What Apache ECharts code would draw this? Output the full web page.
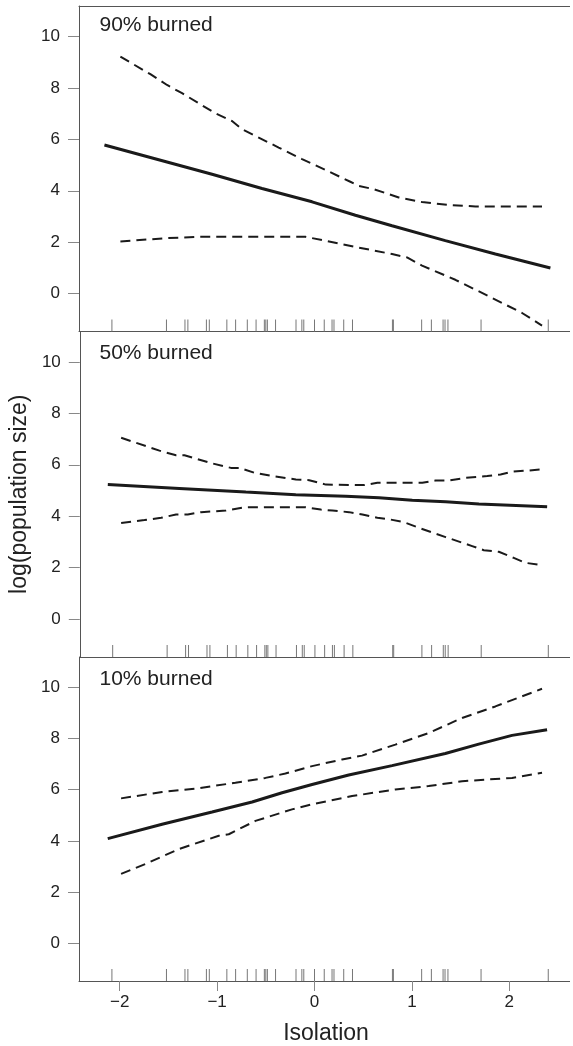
<!DOCTYPE html>
<html>
<head>
<meta charset="utf-8">
<script src="https://cdn.jsdelivr.net/npm/echarts@6/dist/echarts.min.js"></script>
<style>
  html, body { margin: 0; padding: 0; background: #fff; overflow: hidden; }
  #chart { width: 573px; height: 1046px; }
</style>
</head>
<body>
<div id="chart"></div>
<script>
// ---------- data ----------
const panelLabels = ['90% burned', '50% burned', '10% burned'];
const xTicks = [-2, -1, 0, 1, 2];
const yTicks = [0, 2, 4, 6, 8, 10];
const xAxisTitle = 'Isolation';
const yAxisTitle = 'log(population size)';

// rug: isolation values of the sites
const rugX = [-2.08, -1.52, -1.33, -1.30, -1.11, -1.08, -0.90, -0.81, -0.69, -0.60,
  -0.515, -0.50, -0.484, -0.40, -0.19, -0.13, -0.11, 0.00, 0.10, 0.18, 0.20, 0.30,
  0.39, 0.80, 0.81, 1.10, 1.20, 1.32, 1.34, 1.37, 1.71, 2.40];

// 90% burned
const fit90 = [[-2.157, 5.78], [-1.052, 4.64], [-0.539, 4.09], [-0.025, 3.57], [0.420, 3.05],
  [0.796, 2.64], [1.343, 2.06], [1.857, 1.54], [2.422, 1.00]];
const upper90 = [[-1.993, 9.21], [-1.685, 8.53], [-1.514, 8.11], [-1.360, 7.79], [-1.018, 7.01],
  [-0.847, 6.71], [-0.744, 6.39], [-0.607, 6.13], [-0.368, 5.68], [-0.128, 5.23], [0.111, 4.81],
  [0.368, 4.35], [0.454, 4.19], [0.608, 4.06], [0.865, 3.74], [1.104, 3.56], [1.378, 3.45],
  [1.652, 3.39], [2.336, 3.39]];
const lower90 = [[-1.993, 2.03], [-1.514, 2.16], [-1.189, 2.21], [-0.094, 2.21], [0.111, 2.06],
  [0.454, 1.79], [0.796, 1.54], [0.950, 1.41], [1.104, 1.09], [1.446, 0.54], [1.789, -0.10],
  [2.131, -0.75], [2.336, -1.24]];

// 50% burned
const fit50 = [[-2.130, 5.23], [-1.394, 5.08], [-0.710, 4.94], [-0.197, 4.84], [0.317, 4.78],
  [0.659, 4.72], [1.001, 4.62], [1.344, 4.56], [1.686, 4.48], [2.388, 4.37]];
const upper50 = [[-1.993, 7.05], [-1.599, 6.55], [-1.428, 6.37], [-1.342, 6.37], [-1.052, 6.05],
  [-0.864, 5.88], [-0.778, 5.88], [-0.624, 5.69], [-0.436, 5.56], [-0.196, 5.43], [-0.059, 5.40],
  [0.112, 5.23], [0.506, 5.21], [0.642, 5.30], [1.104, 5.30], [1.241, 5.39], [1.378, 5.39],
  [1.549, 5.49], [1.772, 5.56], [1.909, 5.62], [2.028, 5.73], [2.336, 5.82]];
const lower50 = [[-1.993, 3.74], [-1.753, 3.85], [-1.582, 3.94], [-1.428, 4.07], [-1.308, 4.07],
  [-1.171, 4.16], [-0.915, 4.22], [-0.727, 4.35], [-0.094, 4.35], [0.060, 4.26], [0.180, 4.22],
  [0.351, 4.16], [0.488, 4.07], [0.642, 3.94], [0.779, 3.87], [0.916, 3.77], [1.070, 3.55],
  [1.344, 3.19], [1.617, 2.84], [1.737, 2.68], [1.891, 2.62], [2.045, 2.38], [2.165, 2.19],
  [2.336, 2.10]];

// 10% burned
const fit10 = [[-2.123, 4.09], [-1.565, 4.65], [-1.052, 5.13], [-0.641, 5.52], [-0.333, 5.88],
  [-0.025, 6.20], [0.351, 6.57], [0.796, 6.94], [1.343, 7.41], [1.686, 7.78], [2.028, 8.12],
  [2.388, 8.34]];
const upper10 = [[-1.986, 5.66], [-1.565, 5.91], [-1.223, 6.04], [-0.812, 6.27], [-0.504, 6.46],
  [-0.299, 6.63], [-0.025, 6.92], [0.283, 7.18], [0.488, 7.33], [0.830, 7.76], [1.172, 8.21],
  [1.515, 8.80], [1.857, 9.25], [2.336, 9.94]];
const lower10 = [[-1.986, 2.71], [-1.736, 3.10], [-1.394, 3.68], [-0.983, 4.20], [-0.880, 4.26],
  [-0.607, 4.78], [-0.231, 5.23], [-0.025, 5.43], [0.386, 5.75], [0.830, 6.01], [1.172, 6.14],
  [1.515, 6.33], [2.028, 6.46], [2.336, 6.66]];

// ---------- layout / style ----------
const X_MIN = -2.418, X_MAX = 2.654;
const Y_MIN = -1.47, Y_MAX = 11.18;
const FONT = "'Liberation Sans', Arial, Helvetica, sans-serif";
const INK = '#1a1a1a';
const AXIS = '#555';
const TICK = '#888';

const panels = [
  { fit: fit90, upper: upper90, lower: lower90 },
  { fit: fit50, upper: upper50, lower: lower50 },
  { fit: fit10, upper: upper10, lower: lower10 }
];
const gridTops = [6, 331.5, 657];
const gridH = 325.5;
const titleTops = [14.7, 343, 669];

const grid = gridTops.map(t => ({ left: 79, width: 494, top: t, height: gridH }));

const xAxis = [];
const yAxis = [];
const series = [];
const title = [];

panels.forEach((p, i) => {
  const isBottom = i === panels.length - 1;
  xAxis.push({
    type: 'value', gridIndex: i, min: X_MIN, max: X_MAX, position: 'bottom',
    axisLine: { show: true, onZero: false, lineStyle: { color: AXIS, width: 1 } },
    axisTick: isBottom ? { show: true, customValues: xTicks, length: 10, lineStyle: { color: TICK } } : { show: false },
    axisLabel: isBottom ? {
      show: true, customValues: xTicks, fontSize: 17, color: '#222', fontFamily: FONT, margin: 13,
      formatter: v => String(v).replace('-', '\u2212')
    } : { show: false },
    splitLine: { show: false },
    name: isBottom ? xAxisTitle : '',
    nameLocation: 'middle', nameGap: 41,
    nameTextStyle: { fontSize: 23, color: '#222', fontFamily: FONT }
  });
  yAxis.push({
    type: 'value', gridIndex: i, min: Y_MIN, max: Y_MAX, position: 'left',
    axisLine: { show: true, onZero: false, lineStyle: { color: AXIS, width: 1 } },
    axisTick: { show: true, customValues: yTicks, length: 11, lineStyle: { color: TICK } },
    axisLabel: { show: true, customValues: yTicks, fontSize: 17, color: '#222', fontFamily: FONT, margin: 19 },
    splitLine: { show: false },
    name: i === 1 ? yAxisTitle : '',
    nameLocation: 'middle', nameGap: 46,
    nameTextStyle: { fontSize: 23, color: '#222', fontFamily: FONT }
  });
  title.push({
    text: panelLabels[i], left: 99.5, top: titleTops[i], padding: 0,
    textStyle: { fontSize: 21, fontWeight: 'normal', color: '#222', fontFamily: FONT }
  });
  series.push({
    type: 'line', xAxisIndex: i, yAxisIndex: i, data: p.fit, showSymbol: false, smooth: false,
    lineStyle: { color: INK, width: 3 }, z: 3, silent: true
  });
  [p.upper, p.lower].forEach(d => series.push({
    type: 'line', xAxisIndex: i, yAxisIndex: i, data: d, showSymbol: false,
    lineStyle: { color: INK, width: 2, type: [10, 6] }, z: 3, silent: true
  }));
  series.push({
    type: 'custom', xAxisIndex: i, yAxisIndex: i, silent: true,
    data: rugX.map(v => [v, Y_MIN]),
    renderItem: (params, api) => {
      const pt = api.coord([api.value(0), Y_MIN]);
      return {
        type: 'line',
        shape: { x1: pt[0], y1: pt[1], x2: pt[0], y2: pt[1] - 12 },
        style: { stroke: '#777', lineWidth: 1 }
      };
    }
  });
});

// top border of the first panel
xAxis.push({
  type: 'value', gridIndex: 0, position: 'top', min: X_MIN, max: X_MAX,
  axisLine: { show: true, onZero: false, lineStyle: { color: AXIS, width: 1 } },
  axisTick: { show: false }, axisLabel: { show: false }, splitLine: { show: false }
});

const chart = echarts.init(document.getElementById('chart'), null, { renderer: 'canvas' });
chart.setOption({
  animation: false,
  backgroundColor: '#fff',
  textStyle: { fontFamily: FONT },
  title, grid, xAxis, yAxis, series,
  graphic: [{
    type: 'rect', right: 0, top: 0, z: 100, silent: true,
    shape: { width: 3, height: 1046 }, style: { fill: '#fff' }
  }]
});
</script>
</body>
</html>
